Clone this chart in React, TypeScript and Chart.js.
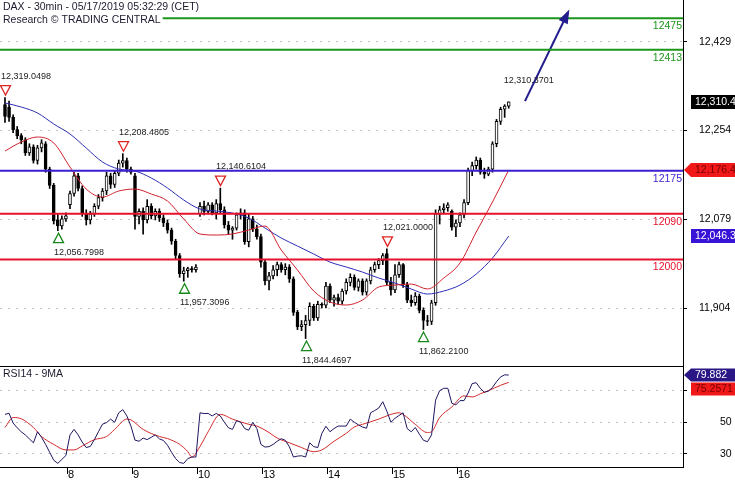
import React, { useEffect, useRef } from 'react';
import { Chart, registerables } from 'chart.js';

Chart.register(...registerables);

const FONT = '"Liberation Sans", Arial, sans-serif';

// 30-min DAX bars: [open, high, low, close]
const candles: number[][] = [
  // May 7
  [12305, 12319.0498, 12270, 12282], [12300, 12312, 12272, 12280], [12280, 12285, 12250, 12256], [12256, 12262, 12238, 12244],
  [12244, 12248, 12228, 12236], [12236, 12240, 12205, 12210], [12210, 12228, 12205, 12222], [12222, 12226, 12190, 12195],
  [12195, 12225, 12188, 12220], [12220, 12236, 12212, 12230], [12228, 12232, 12172, 12178], [12178, 12182, 12140, 12146],
  [12146, 12150, 12070, 12076], [12078, 12090, 12056.7998, 12066], [12066, 12086, 12060, 12080], [12080, 12092, 12075, 12086],
  // May 8
  [12108, 12135, 12100, 12130], [12130, 12172, 12125, 12165], [12165, 12170, 12135, 12140], [12140, 12145, 12085, 12090],
  [12090, 12098, 12068, 12078], [12078, 12095, 12070, 12090], [12090, 12110, 12085, 12105], [12105, 12128, 12100, 12122],
  [12122, 12140, 12115, 12135], [12135, 12172, 12128, 12165], [12165, 12170, 12140, 12148], [12148, 12175, 12142, 12170],
  [12170, 12196, 12165, 12190], [12190, 12208.4805, 12182, 12195], [12195, 12200, 12172, 12178], [12178, 12182, 12168, 12172],
  // May 9
  [12165, 12170, 12060, 12085], [12085, 12100, 12070, 12095], [12095, 12102, 12050, 12078], [12078, 12118, 12072, 12105],
  [12105, 12110, 12080, 12086], [12086, 12100, 12078, 12095], [12095, 12100, 12075, 12082], [12082, 12088, 12065, 12072],
  [12072, 12078, 12052, 12058], [12058, 12062, 12030, 12036], [12036, 12040, 12000, 12008], [12008, 12012, 11965, 11972],
  [11972, 11985, 11957.3096, 11978], [11978, 11985, 11965, 11982], [11982, 11986, 11975, 11980], [11980, 11990, 11975, 11985],
  // May 10
  [12090, 12112, 12085, 12105], [12105, 12115, 12088, 12095], [12095, 12112, 12090, 12108], [12108, 12112, 12088, 12092],
  [12092, 12118, 12080, 12110], [12110, 12140.6104, 12092, 12098], [12098, 12104, 12062, 12068], [12068, 12075, 12050, 12058],
  [12058, 12065, 12040, 12062], [12062, 12092, 12058, 12088], [12088, 12100, 12080, 12092], [12092, 12098, 12030, 12035],
  [12035, 12090, 12025, 12080], [12080, 12085, 12055, 12060], [12060, 12068, 12040, 12045], [12045, 12050, 11985, 11995],
  // May 13
  [11995, 12000, 11950, 11958], [11958, 11975, 11940, 11968], [11968, 11988, 11962, 11980], [11980, 11995, 11968, 11990],
  [11990, 11994, 11975, 11980], [11980, 11992, 11970, 11985], [11985, 11990, 11955, 11962], [11962, 11966, 11890, 11896],
  [11896, 11900, 11862, 11868], [11868, 11880, 11860, 11872], [11872, 11890, 11844.4697, 11880], [11880, 11915, 11870, 11908],
  [11908, 11912, 11880, 11885], [11885, 11918, 11880, 11912], [11912, 11915, 11905, 11910], [11910, 11955, 11905, 11948],
  // May 14
  [11948, 11952, 11915, 11920], [11920, 11930, 11908, 11925], [11925, 11932, 11912, 11918], [11918, 11942, 11912, 11938],
  [11938, 11962, 11932, 11955], [11955, 11972, 11948, 11965], [11965, 11970, 11940, 11945], [11945, 11962, 11938, 11958],
  [11958, 11962, 11930, 11936], [11936, 11962, 11930, 11958], [11958, 11985, 11952, 11980], [11980, 11995, 11975, 11990],
  [11990, 12002, 11982, 11998], [11998, 12012, 11990, 12008], [12012, 12021.0, 11950, 11955], [11955, 11965, 11930, 11940],
  // May 15
  [11940, 11990, 11935, 11970], [11970, 11995, 11965, 11990], [11990, 11992, 11945, 11950], [11950, 11955, 11915, 11920],
  [11920, 11930, 11908, 11915], [11915, 11935, 11910, 11928], [11928, 11932, 11895, 11900], [11900, 11905, 11862.21, 11880],
  [11880, 11890, 11870, 11878], [11878, 11920, 11872, 11915], [11915, 12098, 11910, 12090], [12090, 12105, 12070, 12098],
  [12098, 12110, 12090, 12102], [12102, 12112, 12095, 12108], [12095, 12098, 12058, 12064], [12064, 12078, 12045, 12072],
  // May 16
  [12072, 12092, 12065, 12088], [12088, 12118, 12082, 12112], [12112, 12180, 12108, 12175], [12175, 12192, 12165, 12185],
  [12185, 12202, 12178, 12196], [12196, 12200, 12168, 12172], [12172, 12180, 12160, 12168], [12168, 12182, 12165, 12178],
  [12178, 12232, 12172, 12228], [12228, 12276, 12222, 12272], [12272, 12300, 12266, 12296], [12296, 12305, 12280, 12302],
  [12302, 12310.3701, 12298, 12310.3701],
];

// moving averages, read at every 4th bar
const maIndex = [0, 4, 8, 12, 16, 20, 24, 28, 32, 36, 40, 44, 48, 52, 56, 60, 64, 68, 72, 76, 80, 84, 88, 92, 96, 100, 104, 108, 112, 116, 120, 124];
const fastMA = [12213.7, 12231.5, 12241.3, 12229.5, 12182.2, 12138.9, 12123.1, 12135.0, 12138.9, 12129.0, 12115.3, 12079.8, 12050.3, 12048.3, 12050.3, 12058.2, 12066.0, 12018.8, 11979.4, 11938.0, 11916.4, 11910.5, 11920.3, 11945.9, 11949.8, 11951.8, 11942.0, 11963.6, 11993.2, 12054.2, 12113.3, 12176.4];
const slowMA = [12308.3, 12300.4, 12288.6, 12266.9, 12247.2, 12219.6, 12192.1, 12178.3, 12174.3, 12160.6, 12140.9, 12117.2, 12099.5, 12095.6, 12091.6, 12081.8, 12062.1, 12042.4, 12026.6, 12010.9, 11995.1, 11985.3, 11975.4, 11963.6, 11953.8, 11942.0, 11932.1, 11938.0, 11949.8, 11971.5, 12003.0, 12046.3];

// RSI(14), one value per bar
const rsi14 = [
  55, 55.7, 49.5, 46.5, 44, 42, 39.5, 37, 44, 40.5, 36, 31, 26, 24, 26.5, 29,
  42, 45.5, 42, 37.5, 34, 34.7, 39, 44, 48.8, 49.8, 52, 50, 56, 58, 54, 47.6,
  38.7, 38, 40, 39, 40.5, 42, 39.5, 38.5, 35.5, 31, 27, 24.5, 24, 27, 28, 28,
  56, 55.5, 55.6, 54, 55.6, 54, 50, 46.5, 45.5, 51, 50, 46, 45, 50, 46, 36,
  34.3, 34.6, 36, 38, 39.6, 38.6, 34.5, 28, 28.6, 28.8, 28, 37, 34.6, 34, 43, 47.5,
  44, 46, 47.6, 47.6, 47.6, 52, 50, 48.4, 47, 46.2, 56, 57.4, 59, 63, 57, 50,
  52.5, 54.3, 56, 46, 44, 46.7, 42.5, 38.6, 37.7, 42, 64, 70, 71.5, 71.5, 62, 61,
  63.7, 63.7, 68.5, 74.5, 75, 71.5, 69, 69.7, 72, 75.7, 78.7, 80, 79.882,
];
// 9-period MA of the RSI
const rsiMaIndex = [0, 2, 4, 7, 9, 12, 15, 17, 19, 22, 25, 27, 30, 31, 34, 38, 40, 43, 45, 46, 48, 50, 53, 56, 60, 62, 65, 67, 70, 73, 76, 78, 81, 84, 86, 88, 92, 95, 97, 98, 101, 104, 105, 107, 110, 113, 115, 117, 119, 122, 124];
const rsiMa9 = [46.7, 53, 52.2, 46.7, 41, 36, 32.5, 32.5, 35, 39, 41, 45.5, 52, 51.5, 45.5, 41, 39.7, 36, 31.4, 28, 34.7, 44, 55, 52, 48.7, 47.6, 43.5, 40, 37, 34, 31.4, 32.5, 38, 43, 47, 48.7, 52, 55, 56, 55, 48.7, 43.5, 44, 53, 59.7, 66.7, 66, 68, 70, 73.4, 75.2571];

const levelValues = [12475, 12413, 12175, 12090, 12000];
const priceTicks = [11904, 12079, 12254, 12429];
const rsiTicks = [30, 50, 70];
const dayTicks = [15.5, 31.5, 47.5, 63.5, 79.5, 95.5, 111.5];
const dayLabels = ['8', '9', '10', '13', '14', '15', '16'];
const pivotBars = [0, 13, 29, 44, 53, 74, 94, 103];
const pivotKinds = ['H', 'L', 'H', 'L', 'H', 'L', 'H', 'L'];
const arrowBars = [128, 138.6];
const arrowPrices = [12312, 12487];
const titleText = 'DAX - 30min - 05/17/2019 05:32:29 (CET)';
const sourceText = 'Research \u00a9 TRADING CENTRAL';
const rsiTitle = 'RSI14 - 9MA';

// styling / layout
const LEVEL_COLORS = ['#1b961b', '#1b961b', '#3b1fd0', '#e8112d', '#e8112d'];
const X_MIN = -1.23;
const X_MAX = 166.9;
const PRICE_MIN = 11790.4;
const PRICE_MAX = 12511.1;
const RSI_MIN = 21.7;
const RSI_MAX = 85.6;
const AXIS_W = 50;

const fmt = (v: number, d: number) =>
  v.toLocaleString('en-US', { minimumFractionDigits: d, maximumFractionDigits: d });

function drawBox(ctx: CanvasRenderingContext2D, axisLeft: number, right: number, cy: number, text: string, bg: string, fg: string, pointer: boolean, h: number) {
  const left = axisLeft + 8;
  ctx.fillStyle = bg;
  ctx.beginPath();
  if (pointer) {
    ctx.moveTo(axisLeft + 1, cy);
    ctx.lineTo(left, cy - h / 2);
  } else {
    ctx.moveTo(left, cy - h / 2);
  }
  ctx.lineTo(right, cy - h / 2);
  ctx.lineTo(right, cy + h / 2);
  ctx.lineTo(left, cy + h / 2);
  ctx.closePath();
  ctx.fill();
  ctx.fillStyle = fg;
  ctx.font = `10.5px ${FONT}`;
  ctx.textAlign = 'left';
  ctx.textBaseline = 'middle';
  ctx.fillText(text, left + 4, cy + 0.5);
}

const mainPlugin = {
  id: 'mainDeco',
  afterDatasetsDraw(chart: any) {
    const { ctx, chartArea } = chart;
    const x = chart.scales.x;
    const y = chart.scales.y;
    ctx.save();
    // level labels
    ctx.font = `10.5px ${FONT}`;
    ctx.textAlign = 'right';
    ctx.textBaseline = 'middle';
    levelValues.forEach((v, k) => {
      ctx.fillStyle = LEVEL_COLORS[k];
      ctx.fillText(String(v), chartArea.right - 1, y.getPixelForValue(v) + 8);
    });
    // pivots
    pivotBars.forEach((bi, k) => {
      const c = candles[bi];
      const isHigh = pivotKinds[k] === 'H';
      const v = isHigh ? c[1] : c[2];
      const px = Math.round(x.getPixelForValue(bi)) + 0.5;
      const py = y.getPixelForValue(v);
      const dir = isHigh ? -1 : 1;
      const tipY = py + dir * 2.5;
      const baseY = py + dir * 12;
      ctx.beginPath();
      ctx.moveTo(px, tipY);
      ctx.lineTo(px - 5, baseY);
      ctx.lineTo(px + 5, baseY);
      ctx.closePath();
      ctx.fillStyle = '#fff';
      ctx.fill();
      ctx.strokeStyle = isHigh ? '#e02424' : '#16871a';
      ctx.lineWidth = 1.3;
      ctx.stroke();
      ctx.fillStyle = '#222';
      ctx.font = `9px ${FONT}`;
      ctx.textAlign = 'left';
      ctx.textBaseline = 'middle';
      ctx.fillText(fmt(v, 4), px - 4.5, py + dir * 21.5);
    });
    // last high label
    const li = candles.length - 1;
    const lh = candles[li][1];
    ctx.fillStyle = '#222';
    ctx.font = `9px ${FONT}`;
    ctx.textAlign = 'left';
    ctx.fillText(fmt(lh, 4), x.getPixelForValue(li) - 5, y.getPixelForValue(lh) - 21.5);
    // arrow head
    const ax0 = x.getPixelForValue(arrowBars[0]);
    const ay0 = y.getPixelForValue(arrowPrices[0]);
    const ax1 = x.getPixelForValue(arrowBars[1]);
    const ay1 = y.getPixelForValue(arrowPrices[1]);
    const ang = Math.atan2(ay1 - ay0, ax1 - ax0);
    const cs = Math.cos(ang), sn = Math.sin(ang);
    const L = 11, W = 5;
    ctx.fillStyle = '#221c8c';
    ctx.beginPath();
    ctx.moveTo(ax1 + cs * 3, ay1 + sn * 3);
    ctx.lineTo(ax1 - cs * L + sn * W, ay1 - sn * L - cs * W);
    ctx.lineTo(ax1 - cs * L - sn * W, ay1 - sn * L + cs * W);
    ctx.closePath();
    ctx.fill();
    ctx.restore();
  },
  afterDraw(chart: any) {
    const { ctx } = chart;
    const y = chart.scales.y;
    ctx.save();
    // header
    ctx.font = `10.5px ${FONT}`;
    ctx.textAlign = 'left';
    ctx.textBaseline = 'middle';
    const w2 = ctx.measureText(sourceText).width;
    ctx.fillStyle = '#fff';
    ctx.fillRect(0, 13, w2 + 5, 13);
    ctx.fillStyle = '#1e1a2e';
    ctx.fillText(titleText, 3, 7.5);
    ctx.fillText(sourceText, 3, 20);
    // value boxes
    const last = candles[candles.length - 1][3];
    drawBox(ctx, y.left, chart.width, y.getPixelForValue(last), fmt(last, 1), '#000', '#fff', false, 14);
    const f = fastMA[fastMA.length - 1];
    drawBox(ctx, y.left, chart.width, y.getPixelForValue(f), fmt(f, 1), '#f01818', '#7a0000', true, 14);
    const s = slowMA[slowMA.length - 1];
    drawBox(ctx, y.left, chart.width, y.getPixelForValue(s), fmt(s, 1), '#3a14d6', '#fff', false, 14);
    ctx.restore();
  },
};

const rsiPlugin = {
  id: 'rsiDeco',
  afterDraw(chart: any) {
    const { ctx, chartArea } = chart;
    const y = chart.scales.y;
    ctx.save();
    ctx.strokeStyle = '#000';
    ctx.lineWidth = 1;
    ctx.beginPath();
    ctx.moveTo(0, chartArea.top + 0.5);
    ctx.lineTo(chartArea.right, chartArea.top + 0.5);
    ctx.stroke();
    ctx.fillStyle = '#1e1a2e';
    ctx.font = `10.5px ${FONT}`;
    ctx.textAlign = 'left';
    ctx.textBaseline = 'middle';
    ctx.fillText(rsiTitle, 3, chartArea.top + 8.5);
    const r = rsi14[rsi14.length - 1];
    const yb = y.getPixelForValue(r);
    drawBox(ctx, y.left, chart.width, yb, String(r), '#2a1785', '#fff', true, 13);
    const m = rsiMa9[rsiMa9.length - 1];
    const yr = Math.max(y.getPixelForValue(m), yb + 14);
    drawBox(ctx, y.left, chart.width, yr, String(m), '#f01818', '#7a0000', false, 13);
    ctx.restore();
  },
};

const yAxisCommon = (padding: number) => ({
  position: 'right' as const,
  beginAtZero: false,
  afterFit: (s: any) => {
    s.width = AXIS_W;
    s.paddingTop = 0;
    s.paddingBottom = 0;
  },
  grid: { color: '#c4c4c4', tickColor: '#000', tickLength: 4, lineWidth: 1 },
  border: { display: true, color: '#000', width: 1, dash: [2, 6] },
  ticks: { color: '#000', font: { size: 10.5, family: FONT }, padding, crossAlign: 'near' as const },
});

export default function App() {
  const mainRef = useRef<HTMLCanvasElement>(null);
  const rsiRef = useRef<HTMLCanvasElement>(null);

  useEffect(() => {
    Chart.defaults.font.family = FONT;
    const main = new Chart(mainRef.current as HTMLCanvasElement, {
      type: 'bar',
      data: {
        datasets: [
          ...levelValues.map((v, k) => ({
            type: 'line' as const,
            data: [{ x: X_MIN, y: v }, { x: X_MAX, y: v }],
            borderColor: LEVEL_COLORS[k],
            borderWidth: 2,
            pointRadius: 0,
            order: 0,
          })),
          {
            type: 'line' as const,
            data: arrowBars.map((b, k) => ({ x: b, y: arrowPrices[k] })),
            borderColor: '#221c8c',
            borderWidth: 2,
            pointRadius: 0,
            order: 0,
          },
          {
            type: 'line' as const,
            data: maIndex.map((b, k) => ({ x: b, y: fastMA[k] })),
            borderColor: '#d0202c',
            borderWidth: 1,
            pointRadius: 0,
            cubicInterpolationMode: 'monotone' as const,
            order: 1,
          },
          {
            type: 'line' as const,
            data: maIndex.map((b, k) => ({ x: b, y: slowMA[k] })),
            borderColor: '#2e2eb4',
            borderWidth: 1,
            pointRadius: 0,
            cubicInterpolationMode: 'monotone' as const,
            order: 1,
          },
          {
            type: 'bar' as const,
            data: candles.map((c, i) => ({ x: i, y: [c[0], c[3]] })) as any,
            backgroundColor: candles.map((c) => (c[3] >= c[0] ? '#fff' : '#000')),
            borderColor: '#000',
            borderWidth: 1,
            borderSkipped: false,
            barThickness: 3,
            grouped: false,
            minBarLength: 1,
            order: 2,
          },
          {
            type: 'bar' as const,
            data: candles.map((c, i) => ({ x: i, y: [c[2], c[1]] })) as any,
            backgroundColor: '#000',
            barThickness: 1,
            grouped: false,
            order: 3,
          },
        ] as any,
      },
      options: {
        responsive: false,
        animation: false,
        devicePixelRatio: 1,
        layout: { padding: { left: 0, right: 2, top: 0, bottom: 0 } },
        plugins: { legend: { display: false }, tooltip: { enabled: false } },
        events: [],
        scales: {
          x: { type: 'linear', min: X_MIN, max: X_MAX, offset: false, display: false, grid: { offset: false } },
          y: {
            ...yAxisCommon(12),
            min: PRICE_MIN,
            max: PRICE_MAX,
            afterBuildTicks: (s: any) => {
              s.ticks = priceTicks.map((v) => ({ value: v }));
            },
            ticks: { ...yAxisCommon(12).ticks, callback: (v: any) => fmt(Number(v), 0) },
          },
        } as any,
      },
      plugins: [mainPlugin],
    });

    const rsi = new Chart(rsiRef.current as HTMLCanvasElement, {
      type: 'line',
      data: {
        datasets: [
          {
            data: rsi14.map((v, i) => ({ x: i, y: v })),
            borderColor: '#1f1660',
            borderWidth: 1,
            pointRadius: 0,
            order: 0,
          },
          {
            data: rsiMaIndex.map((b, k) => ({ x: b, y: rsiMa9[k] })),
            borderColor: '#d42a2a',
            borderWidth: 1,
            pointRadius: 0,
            cubicInterpolationMode: 'monotone' as const,
            order: 1,
          },
        ] as any,
      },
      options: {
        responsive: false,
        animation: false,
        devicePixelRatio: 1,
        layout: { padding: { left: 0, right: 2, top: 0, bottom: 0 } },
        plugins: { legend: { display: false }, tooltip: { enabled: false } },
        events: [],
        scales: {
          x: {
            type: 'linear',
            min: X_MIN,
            max: X_MAX,
            offset: false,
            position: 'bottom',
            afterBuildTicks: (s: any) => {
              s.ticks = dayTicks.map((v) => ({ value: v }));
            },
            afterFit: (s: any) => {
              s.height = 13;
              s.paddingLeft = 0;
              s.paddingRight = 0;
            },
            grid: { offset: false, drawOnChartArea: false, drawTicks: true, tickLength: 7, tickColor: '#000', color: '#000' },
            border: { display: true, color: '#000', width: 1 },
            ticks: {
              autoSkip: false,
              maxRotation: 0,
              align: 'start',
              padding: -6,
              color: '#000',
              font: { size: 11, family: FONT },
              callback: (_v: any, i: number) => dayLabels[i],
            },
          },
          y: {
            ...yAxisCommon(33),
            min: RSI_MIN,
            max: RSI_MAX,
            afterBuildTicks: (s: any) => {
              s.ticks = rsiTicks.map((v) => ({ value: v }));
            },
            ticks: { ...yAxisCommon(33).ticks, callback: (v: any) => String(v) },
          },
        } as any,
      },
      plugins: [rsiPlugin],
    });

    return () => {
      main.destroy();
      rsi.destroy();
    };
  }, []);

  return (
    <div style={{ position: 'absolute', left: 0, top: 0, width: 735, height: 480, background: '#fff' }}>
      <canvas ref={mainRef} width={735} height={366} style={{ display: 'block', width: 735, height: 366 }} />
      <canvas ref={rsiRef} width={735} height={114} style={{ display: 'block', width: 735, height: 114 }} />
    </div>
  );
}
